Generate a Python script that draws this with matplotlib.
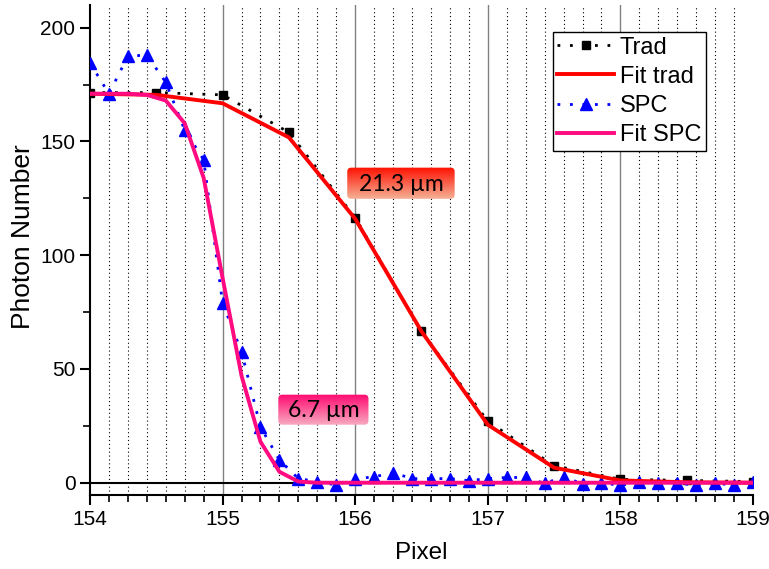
import numpy as np
import matplotlib
matplotlib.use("Agg")
import matplotlib.pyplot as plt
from matplotlib.patches import FancyBboxPatch
from matplotlib.colors import LinearSegmentedColormap

# traditional readout, sampled every half pixel
trad_x = [154.0, 154.5, 155.0, 155.5, 156.0, 156.5, 157.0, 157.5, 158.0, 158.5, 159.0]
trad_y = [171.5, 171.5, 170.5, 154.0, 116.5, 66.5, 27.0, 7.5, 1.5, 1.0, 0.5]
fit_trad_y = [171.0, 170.5, 166.8, 151.8, 116.0, 66.5, 25.5, 6.6, 1.0, 0.2, 0.0]

# SPC readout, sampled every 1/7 pixel
spc_x = [154 + k / 7 for k in range(36)]
spc_y = [184.5, 171.0, 187.5, 188.0, 176.0, 155.0, 142.0,
         79.0, 57.5, 24.5, 10.0, 1.8, 0.5, -1.0,
         1.7, 2.6, 4.4, 1.8, 1.8, 1.8, 0.9,
         1.8, 2.3, 2.3, -0.3, 2.6, -0.5, 0.0,
         -1.2, 0.4, 0.0, -0.3, -1.0, -0.3, -1.0, 0.3]
fit_spc_y = [171.0, 171.0, 171.0, 170.5, 168.0, 158.0, 134.0,
             90.0, 47.0, 18.0, 4.8, 0.5, 0.0, 0.0,
             0.0, 0.0, 0.0, 0.0, 0.0, 0.0, 0.0,
             0.0, 0.0, 0.0, 0.0, 0.0, 0.0, 0.0,
             0.0, 0.0, 0.0, 0.0, 0.0, 0.0, 0.0, 0.0]

plt.rcParams['font.family'] = ['Liberation Sans', 'DejaVu Sans']

fig = plt.figure(figsize=(7.69, 5.69), dpi=100)
ax = fig.add_axes([90/769, 74/569, 663/769, 490/569])

ax.set_xlim(154, 159)
ax.set_ylim(-5.4, 210)

ax.set_xticks(np.arange(154, 159.01, 1))
ax.set_xticks(np.arange(154, 159.01, 1/7), minor=True)
ax.set_yticks(np.arange(0, 201, 50))
ax.set_yticks(np.arange(25, 201, 50), minor=True)

for xv in np.arange(154, 159.01, 1/7):
    if abs(xv - round(xv)) > 1e-6:
        ax.axvline(xv, color='black', lw=0.8, ls=(0, (1, 2.5)), zorder=0.5)
for xv in range(155, 159):
    ax.axvline(xv, color='#808080', lw=1.0, zorder=0.6)
ax.axhline(0, color='black', lw=1.5, zorder=0.7)

ax.spines['top'].set_visible(False)
ax.spines['right'].set_visible(False)
ax.spines['left'].set_linewidth(1.5)
ax.spines['bottom'].set_linewidth(1.5)

ax.tick_params(axis='both', which='major', direction='out', length=7, width=1.5,
               labelsize=15)
ax.tick_params(axis='both', which='minor', direction='out', length=5, width=1.2)

ax.plot(trad_x, trad_y, color='black', ls=(0, (1, 3.5)), lw=2, marker='s',
        markersize=6, label='Trad', zorder=2)
ax.plot(trad_x, fit_trad_y, color='#FF0000', lw=2.8, label='Fit trad', zorder=4)
ax.plot(spc_x, spc_y, color='#0000FF', ls=(0, (1, 3.5)), lw=2, marker='^',
        markersize=8, label='SPC', zorder=3)
ax.plot(spc_x, fit_spc_y, color='#FF0A80', lw=2.8, label='Fit SPC', zorder=5)

ax.set_xlabel('Pixel', fontsize=17.5, labelpad=10)
ax.set_ylabel('Photon Number', fontsize=19, va='center')
ax.yaxis.set_label_coords(-0.101, 0.527)

leg = ax.legend(loc='upper right', bbox_to_anchor=(0.929, 0.945), fontsize=17,
                frameon=True, fancybox=False, framealpha=1, edgecolor='black',
                handlelength=2.4, borderpad=0.2, labelspacing=0.3,
                handletextpad=0.25, borderaxespad=0)
leg.get_frame().set_linewidth(1.0)


def label_box(x0, x1, y0, y1, text, top, bottom):
    aspect = (132.6 / 2.272)
    patch = FancyBboxPatch((x0, y0), x1 - x0, y1 - y0,
                           boxstyle='round,pad=0,rounding_size=0.03',
                           mutation_aspect=aspect, facecolor='none',
                           edgecolor='none', zorder=6)
    ax.add_patch(patch)
    cmap = LinearSegmentedColormap.from_list('g', [top, bottom])
    grad = np.linspace(0, 1, 64).reshape(-1, 1)
    im = ax.imshow(grad, extent=(x0, x1, y1, y0), cmap=cmap, aspect='auto',
                   origin='upper', zorder=6, interpolation='bilinear')
    im.set_clip_path(patch)
    ax.text((x0 + x1) / 2, (y0 + y1) / 2 - 0.5, text, ha='center', va='center',
            fontsize=16.5, family=['Lato', 'DejaVu Sans'], zorder=7)


label_box(155.94, 156.75, 124.8, 138.5, '21.3 µm', '#F5B196', '#FF1000')
label_box(155.42, 156.10, 25.5, 38.7, '6.7 µm', '#F8A9C0', '#FF0A70')

ax.set_xlim(154, 159)
ax.set_ylim(-5.4, 210)

fig.savefig('out.png', dpi=100)
